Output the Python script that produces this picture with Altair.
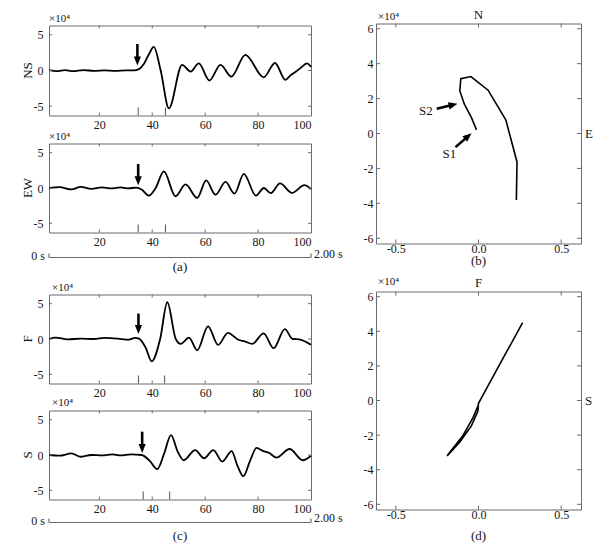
import math
import altair as alt
import pandas as pd

FONT = "Liberation Serif"
FRAME = "#6b6b6b"
INK = "#151515"

# ---------------- waveform data (sample index, amplitude in 1e4) ----------------
ns_t = [1, 4, 7, 10, 14, 18, 22, 26, 30, 33, 35, 36.9, 38.8, 40.6, 43.2, 46.3, 51.3, 54.5,
        57.6, 61.6, 65.8, 69.9, 75.2, 82.1, 86.4, 90.3, 92.5, 94.5, 96.5, 98.5, 100]
ns_v = [0.05, -0.1, 0.05, -0.1, 0.05, -0.05, 0.02, -0.05, 0.02, 0.02, 0.2, 0.94, 2.3, 3.3, 0.0,
        -5.3, 0.8, -0.15, 1.0, -1.4, 0.8, -0.85, 2.2, -0.95, 1.05, -1.3, -0.6, -0.1, 0.5, 1.0, 0.5]

ew_t = [1, 5, 9.5, 13, 17, 21, 24.5, 28, 31, 34, 36, 38.7, 41.3, 44.4, 48.8, 52.6, 57, 60.4,
        63.9, 67.7, 71.1, 74.6, 79.2, 82.2, 84.8, 88.3, 92.8, 97.5, 100]
ew_v = [0.0, 0.12, -0.2, 0.15, -0.12, 0.1, -0.05, 0.1, -0.05, 0.05, -0.2, -1.08, 0.0, 2.34,
        -1.17, 0.5, -1.4, 1.08, -0.95, 0.86, -0.8, 2.0, -1.08, 0.0, -0.72, 0.65, -0.7, 0.4, -0.15]

f_t = [1, 3.5, 8, 13, 18, 22, 27, 31, 33.5, 35, 37.5, 39.8, 43, 45.7, 48.9, 50.8, 53.9, 57,
       61.1, 64.9, 68.6, 72.5, 75, 77.8, 82.1, 85.9, 90.1, 93.1, 95.5, 100]
f_v = [0.0, 0.2, -0.05, 0.05, 0.0, 0.15, 0.05, -0.1, 0.15, 0.05, -1.2, -3.15, 0.0, 5.2, 0.0,
       -0.7, 0.2, -1.6, 1.8, -0.83, 0.88, -0.1, -0.35, -0.7, 0.8, -1.3, 1.4, 0.0, -0.05, -0.83]

s_t = [1, 5, 9.5, 12.8, 17, 21, 25, 28, 32, 36, 39, 41.9, 44.5, 47.1, 49.6, 51.9, 56.2, 59.6,
       63.1, 66.5, 70, 72.2, 74.4, 77, 79.4, 82, 84.1, 86.9, 91.9, 96.9, 100]
s_v = [0.0, -0.1, 0.23, -0.25, 0.0, -0.05, 0.1, -0.05, 0.1, 0.0, -0.8, -2.0, 0.2, 2.8, 0.5,
       -0.74, 0.7, -0.46, 0.7, -0.93, 0.56, -1.5, -3.0, -0.8, 1.0, 0.55, 0.32, -0.37, 0.85, -0.74, -0.1]

# phase markers on the bottom axis
ns_marks = [34.7, 45.0]
ew_marks = [34.7, 45.0]
f_marks = [34.8, 44.7]
s_marks = [36.6, 46.6]

# arrows: (sample, tail amplitude, tip amplitude)
ns_arrow = [34.4, 3.7, 0.7]
ew_arrow = [34.7, 3.4, 0.4]
f_arrow = [34.8, 3.6, 0.7]
s_arrow = [36.2, 3.3, 0.3]

# ---------------- hodogram data ----------------
b_e = [-0.012, -0.042, -0.086, -0.113, -0.107, -0.046, 0.058, 0.165, 0.233, 0.229]
b_n = [0.21, 0.89, 1.69, 2.44, 3.14, 3.26, 2.48, 0.78, -1.63, -3.81]

d_f = [0.0, -0.034, -0.095, -0.19, -0.114, -0.044, -0.004, 0.0, 0.059, 0.148, 0.267]
d_s = [-0.25, -1.0, -2.04, -3.2, -2.41, -1.48, -0.63, -0.16, 0.87, 2.43, 4.5]

# hodogram arrows: tail (x, y), tip (x, y)
s2_arrow = [-0.253, 1.42, -0.127, 1.70]
s1_arrow = [-0.139, -0.78, -0.042, 0.02]
s2_label = [-0.319, 1.28]
s1_label = [-0.176, -1.20]

# ---------------- axes / ticks ----------------
T_DOMAIN = [1, 100]
A_DOMAIN = [-6.3, 6.3]
E_DOMAIN = [-0.62, 0.62]
TICK_T = [20, 40, 60, 80, 100]
TICK_T_IN = [20, 40, 60, 80]
TICK_A = [-5, 0, 5]
TICK_E = [-0.5, 0, 0.5]
TICK_N = [-6, -4, -2, 0, 2, 4, 6]

WL = 262
WR = 205
LABEL_EXPR = "replace(datum.label, '\u2212', '-')"
HEAD = "M0,0L-0.8,2L0.8,2Z"
ONE = pd.DataFrame({"k": [0]})


def txt(s, x, y, size=12, align="center", baseline="middle", angle=None):
    kw = dict(text=s, font=FONT, fontSize=size, color=INK, align=align, baseline=baseline)
    if angle is not None:
        kw["angle"] = angle
    return alt.Chart(ONE).mark_text(**kw).encode(x=alt.value(x), y=alt.value(y))


def guard(y):
    # invisible guide that fixes how far the figure reaches above the top panels
    return alt.Chart(ONE).mark_rule(opacity=0).encode(
        x=alt.value(0), x2=alt.value(10), y=alt.value(y))


def gap(h, w):
    return alt.Chart(ONE).mark_point(opacity=0).encode(
        x=alt.value(0), y=alt.value(0)
    ).properties(width=w, height=h, view=alt.ViewBackground(stroke="transparent"))


def inward(X, Y, xf, yf, xvals, yvals, W, H, L):
    dfx = pd.DataFrame({xf: xvals})
    dfy = pd.DataFrame({yf: yvals})
    r = dict(color=FRAME, strokeWidth=1)
    return [
        alt.Chart(dfx).mark_rule(**r).encode(x=X, y=alt.value(H), y2=alt.value(H - L)),
        alt.Chart(dfx).mark_rule(**r).encode(x=X, y=alt.value(0), y2=alt.value(L)),
        alt.Chart(dfy).mark_rule(**r).encode(y=Y, x=alt.value(0), x2=alt.value(L)),
        alt.Chart(dfy).mark_rule(**r).encode(y=Y, x=alt.value(W), x2=alt.value(W - L)),
    ]


def wave_panel(t, v, name, H, marks, arrow, x10_dx, x10_dy, bar=None):
    xsc = alt.Scale(domain=T_DOMAIN, nice=False, zero=False)
    ysc = alt.Scale(domain=A_DOMAIN, nice=False, zero=False)
    X = alt.X("t:Q", scale=xsc, axis=alt.Axis(values=TICK_T, title=None, labelPadding=4,
                                               labelExpr=LABEL_EXPR))
    Y = alt.Y("v:Q", scale=ysc, axis=alt.Axis(values=TICK_A, title=None, labelPadding=6,
                                               labelExpr=LABEL_EXPR))
    py = H / (A_DOMAIN[1] - A_DOMAIN[0])
    layers = [alt.Chart(pd.DataFrame({"t": t, "v": v})).mark_line(
        color="black", strokeWidth=1.8, interpolate="monotone").encode(x=X, y=Y)]
    layers += inward(X, Y, "t", "v", TICK_T_IN, TICK_A, WL, H, 3)
    layers.append(alt.Chart(pd.DataFrame({"t": marks})).mark_rule(color="#505050", strokeWidth=1).encode(
        x=X, y=alt.value(H), y2=alt.value(H - 8)))
    ax, atail, atip = arrow
    layers.append(alt.Chart(pd.DataFrame({"t": [ax], "v": [atail], "v2": [atip + 4.5 / py]})).mark_rule(
        color="black", strokeWidth=2.6, strokeCap="butt").encode(x=X, y=Y, y2="v2:Q"))
    layers.append(alt.Chart(pd.DataFrame({"t": [ax], "v": [atip]})).mark_point(
        shape=HEAD, size=81, filled=True, color="black", opacity=1, angle=180).encode(x=X, y=Y))
    layers.append(txt("\u00d710\u2074", x10_dx, x10_dy, size=11, align="left"))
    layers.append(txt(name, -21, H / 2, size=13, angle=270))
    if bar is not None:
        by, z_y, e_y, lab, lab_y = bar
        layers.append(alt.Chart(pd.DataFrame({"t": [T_DOMAIN[0]], "t2": [T_DOMAIN[1]]})).mark_rule(
            color=FRAME, strokeWidth=1.2).encode(x=X, x2="t2:Q", y=alt.value(H + by)))
        layers.append(alt.Chart(pd.DataFrame({"t": T_DOMAIN})).mark_rule(
            color=FRAME, strokeWidth=1.2).encode(x=X, y=alt.value(H + by - 4), y2=alt.value(H + by)))
        layers.append(txt("0 s", -4, H + z_y, size=12, align="right"))
        layers.append(txt("2.00 s", WL + 3, H + e_y, size=12, align="left"))
        layers.append(txt(lab, WL / 2, H + lab_y, size=13))
    return alt.layer(*layers).properties(width=WL, height=H)


def arrow_layers(X, Y, a, px, py):
    x0, y0, x1, y1 = a
    dxp = (x1 - x0) * px
    dyp = -(y1 - y0) * py
    n = math.hypot(dxp, dyp)
    ux, uy = dxp / n, dyp / n
    ang = math.degrees(math.atan2(ux, -uy))
    sx = x1 - ux * 4.5 / px
    sy = y1 + uy * 4.5 / py
    return [
        alt.Chart(pd.DataFrame({"hx": [x0], "hy": [y0], "hx2": [sx], "hy2": [sy]})).mark_rule(
            color="black", strokeWidth=2.6, strokeCap="butt").encode(x=X, y=Y, x2="hx2:Q", y2="hy2:Q"),
        alt.Chart(pd.DataFrame({"hx": [x1], "hy": [y1]})).mark_point(
            shape=HEAD, size=81, filled=True, color="black", opacity=1, angle=ang).encode(x=X, y=Y),
    ]


def hodo_panel(xs, ys, H, top, right, lab, lab_y, x10_dy, top_dy, arrows=None, labels=None,
               top_guard=None):
    xsc = alt.Scale(domain=E_DOMAIN, nice=False, zero=False)
    ysc = alt.Scale(domain=A_DOMAIN, nice=False, zero=False)
    X = alt.X("hx:Q", scale=xsc, axis=alt.Axis(values=TICK_E, title=None, labelPadding=0,
                                                labelExpr=LABEL_EXPR))
    Y = alt.Y("hy:Q", scale=ysc, axis=alt.Axis(values=TICK_N, title=None, labelPadding=3,
                                                labelExpr=LABEL_EXPR))
    df = pd.DataFrame({"hx": xs, "hy": ys, "i": list(range(len(xs)))})
    layers = [alt.Chart(df).mark_line(color="black", strokeWidth=1.6).encode(
        x=X, y=Y, order=alt.Order("i:Q"))]
    layers += inward(X, Y, "hx", "hy", TICK_E, TICK_N, WR, H, 4)
    px = WR / (E_DOMAIN[1] - E_DOMAIN[0])
    py = H / (A_DOMAIN[1] - A_DOMAIN[0])
    if arrows:
        for a in arrows:
            layers += arrow_layers(X, Y, a, px, py)
    if labels:
        for (s, (lx, ly)) in labels:
            layers.append(alt.Chart(pd.DataFrame({"hx": [lx], "hy": [ly]})).mark_text(
                text=s, font=FONT, fontSize=13, color=INK).encode(x=X, y=Y))
    layers.append(txt("\u00d710\u2074", 2, x10_dy, size=11, align="left"))
    layers.append(txt(top, WR / 2, top_dy, size=13))
    layers.append(txt(right, WR + 4, H / 2, size=13, align="left"))
    layers.append(txt(lab, WR / 2, H + lab_y, size=13))
    if top_guard is not None:
        layers.append(guard(top_guard))
    return alt.layer(*layers).properties(width=WR, height=H)


ns = wave_panel(ns_t, ns_v, "NS", 90, ns_marks, ns_arrow, 0, -7)
ew = wave_panel(ew_t, ew_v, "EW", 89, ew_marks, ew_arrow, 0, -7, bar=(25, 23, 21, "(a)", 34))
fp = wave_panel(f_t, f_v, "F", 89, f_marks, f_arrow, 3, -7)
sp = wave_panel(s_t, s_v, "S", 89, s_marks, s_arrow, 3, -8, bar=(23, 21, 18, "(c)", 36))

hb = hodo_panel(b_e, b_n, 220, "N", "E", "(b)", 17, -7, -9,
                arrows=[s2_arrow, s1_arrow], labels=[("S2", s2_label), ("S1", s1_label)],
                top_guard=-18)
hd = hodo_panel(d_f, d_s, 218, "F", "S", "(d)", 26, -10, -9)

left = alt.vconcat(gap(2, WL), ns, gap(28, WL), ew, gap(62, WL), fp, gap(27, WL), sp,
                   spacing=0, bounds="flush")
right = alt.vconcat(hb, gap(48, WR), hd, spacing=0, bounds="flush")

chart = alt.hconcat(left, right, spacing=18).properties(
    padding={"left": 13, "top": -3.5, "right": 5, "bottom": 2}
).configure(background="white").configure_axis(
    labelFont=FONT, labelFontSize=12, labelColor=INK, ticks=False, domain=False, grid=False
).configure_view(stroke=FRAME, strokeWidth=1)

chart.save("out.html", embed_options={"renderer": "svg", "actions": False})
